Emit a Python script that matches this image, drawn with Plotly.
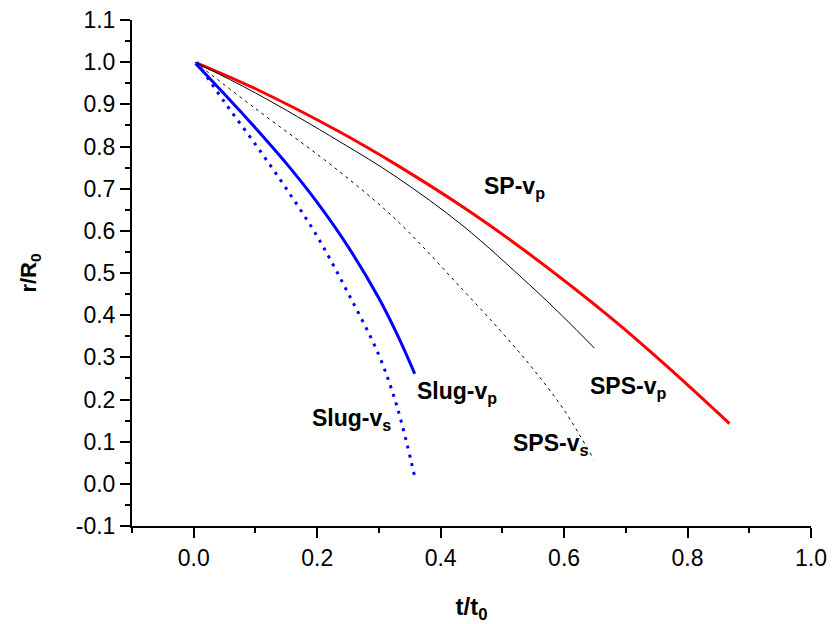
import plotly.graph_objects as go

# ---- data ----
sp_vp_t = [0.005, 0.10, 0.236, 0.328, 0.447, 0.541, 0.674, 0.765, 0.868]
sp_vp_r = [0.998, 0.937, 0.835, 0.757, 0.646, 0.548, 0.396, 0.281, 0.143]

sps_vp_t = [0.002, 0.10, 0.236, 0.328, 0.436, 0.544, 0.598, 0.649]
sps_vp_r = [1.000, 0.927, 0.812, 0.728, 0.612, 0.472, 0.397, 0.322]

sps_vs_t = [0.002, 0.10, 0.234, 0.328, 0.436, 0.50, 0.55, 0.60, 0.648]
sps_vs_r = [1.000, 0.890, 0.743, 0.626, 0.460, 0.358, 0.272, 0.175, 0.058]

slug_vp_t = [0.003, 0.05, 0.10, 0.15, 0.20, 0.25, 0.30, 0.33, 0.358]
slug_vp_r = [0.997, 0.924, 0.844, 0.760, 0.6675, 0.5625, 0.440, 0.353, 0.261]

slug_vs_t = [0.005, 0.05, 0.10, 0.15, 0.20, 0.25, 0.30, 0.33, 0.359]
slug_vs_r = [1.000, 0.905, 0.805, 0.700, 0.587, 0.4525, 0.305, 0.180, 0.0105]

labels = ["SP-v<sub>p</sub>", "SPS-v<sub>p</sub>", "SPS-v<sub>s</sub>", "Slug-v<sub>p</sub>", "Slug-v<sub>s</sub>"]
label_t = [0.4675, 0.6386, 0.5145, 0.358, 0.189]
label_r = [0.7036, 0.2285, 0.0938, 0.2166, 0.1532]

x_tickvals = [0.0, 0.2, 0.4, 0.6, 0.8, 1.0]
x_ticktext = ["0.0", "0.2", "0.4", "0.6", "0.8", "1.0"]
y_tickvals = [-0.1, 0.0, 0.1, 0.2, 0.3, 0.4, 0.5, 0.6, 0.7, 0.8, 0.9, 1.0, 1.1]
y_ticktext = ["-0.1", "0.0", "0.1", "0.2", "0.3", "0.4", "0.5", "0.6", "0.7", "0.8", "0.9", "1.0", "1.1"]

FONT = "Liberation Sans, Arial, sans-serif"

fig = go.Figure()
fig.add_trace(go.Scatter(x=sp_vp_t, y=sp_vp_r, mode="lines", line=dict(color="#ff0000", width=3, shape="spline", smoothing=1), name="SP-vp"))
fig.add_trace(go.Scatter(x=sps_vp_t, y=sps_vp_r, mode="lines", line=dict(color="black", width=1, shape="spline", smoothing=1), name="SPS-vp"))
fig.add_trace(go.Scatter(x=sps_vs_t, y=sps_vs_r, mode="lines", line=dict(color="black", width=1, dash="3px,4px", shape="spline", smoothing=1), name="SPS-vs"))
fig.add_trace(go.Scatter(x=slug_vp_t, y=slug_vp_r, mode="lines", line=dict(color="#0000ff", width=3, shape="spline", smoothing=1), name="Slug-vp"))
fig.add_trace(go.Scatter(x=slug_vs_t, y=slug_vs_r, mode="lines", line=dict(color="#0000ff", width=3, dash="3px,6px", shape="spline", smoothing=1), name="Slug-vs"))

for txt, tx, ry in zip(labels, label_t, label_r):
    fig.add_annotation(x=tx, y=ry, xref="x", yref="y", text="<b>" + txt + "</b>", showarrow=False,
                       xanchor="left", yanchor="middle", font=dict(family=FONT, size=23, color="black"))

axis_common = dict(
    showgrid=False, zeroline=False, showline=True, linewidth=2, linecolor="black",
    ticks="outside", ticklen=10, tickwidth=2, tickcolor="black",
    tickfont=dict(family=FONT, size=23, color="black"), tickmode="array",
    ticklabeloverflow="allow", automargin=True,
)

fig.update_xaxes(**axis_common, range=[-0.1, 1.00001], tickvals=x_tickvals, ticktext=x_ticktext,
                 minor=dict(dtick=0.1, tick0=0, ticks="outside", ticklen=5, tickwidth=2, tickcolor="black"),
                 title=dict(text="<b>t/t<sub>0</sub></b>", font=dict(family=FONT, size=24, color="black"), standoff=31))
fig.update_yaxes(**axis_common, range=[-0.10001, 1.10001], tickvals=y_tickvals, ticktext=y_ticktext,
                 minor=dict(dtick=0.05, tick0=0, ticks="outside", ticklen=5, tickwidth=2, tickcolor="black"),
                 title=dict(text="<b>r/R<sub>0</sub></b>", font=dict(family=FONT, size=22, color="black"), standoff=33))

# the page body adds an 8px margin, so the figure is 8px smaller than the window
fig.update_layout(width=832, height=616, showlegend=False,
                  margin=dict(l=124, r=29, t=12, b=98, autoexpand=False),
                  plot_bgcolor="white", paper_bgcolor="white")

fig.write_html("out.html")
